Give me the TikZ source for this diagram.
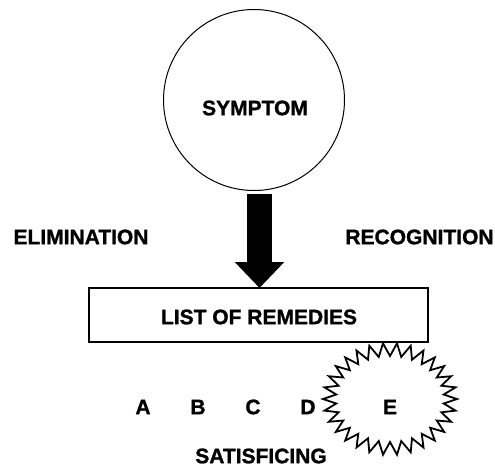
\documentclass[tikz,border=0pt]{standalone}
\usepackage{fontspec}
\setmainfont[BoldFeatures={FakeBold=1.2}]{Liberation Sans}
\usetikzlibrary{arrows.meta}
\begin{document}
\begin{tikzpicture}[x=1pt,y=-1pt,
  lbl/.style={font=\fontsize{21}{24}\selectfont\bfseries, inner sep=0pt, anchor=center},
  outline/.style={draw=black, line width=1.4pt}]
\useasboundingbox (0,0) rectangle (495,467);
\node[circle, draw=black, line width=1pt, minimum size=181pt, inner sep=0pt] (sym) at (254,100) {};
\node[lbl] (symt) at (255,108) {SYMPTOM};
\node[outline, minimum width=339pt, minimum height=54pt, inner sep=0pt] (list) at (258.5,315) {};
\node[lbl] (listt) at (259,317) {LIST OF REMEDIES};
\node[lbl] (elim) at (81,237) {ELIMINATION};
\node[lbl] (recog) at (419.5,237) {RECOGNITION};
\coordinate (astart) at (259.5,194);
\coordinate (aend) at (259.5,288);
\draw[line width=25pt, -{Triangle[length=26pt,width=48pt]}] (astart) -- (aend);
\node[lbl] (a) at (143,407) {A};
\node[lbl] (b) at (198,407) {B};
\node[lbl] (c) at (253,407) {C};
\node[lbl] (d) at (308,407) {D};
\draw[line width=1.8pt, line join=miter]
  (457,399)
  \foreach \k in {1,...,59} {
    -- ({390+(60.5+6.5*cos(\k*180))*cos(\k*6)},{399+(49.5+6.5*cos(\k*180))*sin(\k*6)})
  } -- cycle;
\node[lbl] (e) at (390,407) {E};
\node[lbl] (sat) at (261,456) {SATISFICING};
\end{tikzpicture}
\end{document}
